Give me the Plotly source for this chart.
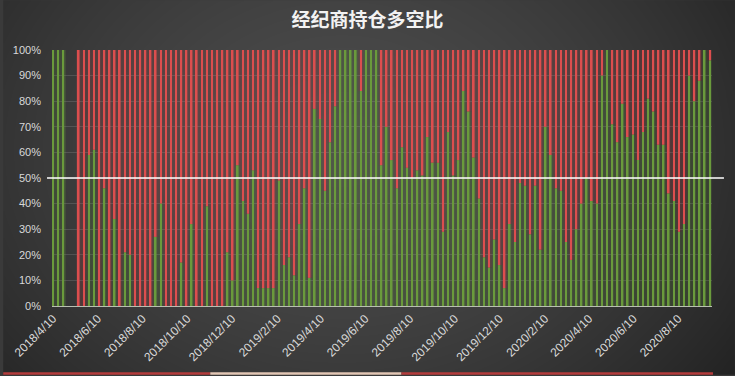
import base64
import struct
import zlib
from datetime import date, timedelta

import numpy as np
import plotly.graph_objects as go

# ---------------- data ----------------
title_text = "经纪商持仓多空比"
start_date = date(2018, 4, 10)

# share of long positions (%) per weekly report; None = no report
long_pct = [
    100, 100, 100, None, None, 0, 0, 59, 61, 0,
    46, 0, 34, 0, 21, 20, 0, 0, 0, 0,
    27, 40, 0, 0, 0, 17, 0, 32, 0, 0,
    39, 0, 0, 0, 21, 10, 55, 41, 36, 53,
    7, 7, 7, 7, 49, 16, 19, 12, 32, 46,
    11, 77, 73, 45, 64, 78, 100, 100, 100, 100,
    84, 100, 100, 100, 55, 70, 57, 46, 62, 54,
    50, 53, 51, 66, 56, 56, 29, 68, 51, 57,
    84, 76, 58, 42, 19, 15, 26, 16, 7, 32,
    25, 48, 47, 28, 47, 22, 70, 59, 46, 45,
    25, 18, 30, 40, 50, 41, 40, 90, 100, 71,
    64, 79, 66, 67, 57, 68, 81, 76, 63, 63,
    44, 41, 29, 32, 90, 80, 88, 100, 96,
]
report_dates = [(start_date + timedelta(weeks=i)).isoformat() for i in range(len(long_pct))]
short_pct = [None if v is None else 100 - v for v in long_pct]

tick_dates = ["2018-04-10", "2018-06-10", "2018-08-10", "2018-10-10", "2018-12-10",
              "2019-02-10", "2019-04-10", "2019-06-10", "2019-08-10", "2019-10-10",
              "2019-12-10", "2020-02-10", "2020-04-10", "2020-06-10", "2020-08-10"]
tick_labels = ["2018/4/10", "2018/6/10", "2018/8/10", "2018/10/10", "2018/12/10",
               "2019/2/10", "2019/4/10", "2019/6/10", "2019/8/10", "2019/10/10",
               "2019/12/10", "2020/2/10", "2020/4/10", "2020/6/10", "2020/8/10"]
y_ticks = [0, 10, 20, 30, 40, 50, 60, 70, 80, 90, 100]
y_tick_labels = ["0%", "10%", "20%", "30%", "40%", "50%", "60%", "70%", "80%", "90%", "100%"]
mid_level = 50

# ---------------- styling ----------------
W, H = 735, 376
ML, MR, MT, MB = 49, 23, 50, 69
PW, PH = W - ML - MR, H - MT - MB
GREEN = "#6a9a3c"
RED = "#dc4e4e"
GREEN_T = "rgba(106,154,60,0.18)"
RED_T = "rgba(220,78,78,0.17)"
DAY_MS = 86400000


def gradient_png():
    yy, xx = np.mgrid[0:H, 0:W].astype(float)
    d = np.sqrt(((xx - 340) / 480.0) ** 2 + ((yy - 150) / 380.0) ** 2)
    d = np.clip(d, 0, 1.2)
    v = 76 - 40 * d ** 1.6
    v = np.clip(v, 30, 80).astype(np.uint8)
    arr = np.stack([v, v, v], axis=-1)
    raw = b"".join(b"\x00" + arr[r].tobytes() for r in range(H))

    def chunk(t, dat):
        c = struct.pack(">I", len(dat)) + t + dat
        return c + struct.pack(">I", zlib.crc32(t + dat) & 0xFFFFFFFF)

    png = (b"\x89PNG\r\n\x1a\n"
           + chunk(b"IHDR", struct.pack(">IIBBBBB", W, H, 8, 2, 0, 0, 0))
           + chunk(b"IDAT", zlib.compress(raw, 9))
           + chunk(b"IEND", b""))
    return "data:image/png;base64," + base64.b64encode(png).decode()


fig = go.Figure()
wide = 7 * DAY_MS
thin = 2.2 * DAY_MS
valid = [i for i, v in enumerate(long_pct) if v is not None]
xd = [report_dates[i] for i in valid]
lv = [long_pct[i] for i in valid]
sv = [short_pct[i] for i in valid]

# tinted slot fill
fig.add_trace(go.Bar(x=xd, y=lv, base=[0] * len(lv), width=[wide] * len(lv),
                     marker=dict(color=GREEN_T, line=dict(width=0)), hoverinfo="skip", showlegend=False))
fig.add_trace(go.Bar(x=xd, y=sv, base=lv, width=[wide] * len(lv),
                     marker=dict(color=RED_T, line=dict(width=0)), hoverinfo="skip", showlegend=False))
# bright bars
fig.add_trace(go.Bar(x=xd, y=lv, base=[0] * len(lv), width=[thin] * len(lv), name="多",
                     marker=dict(color=GREEN, line=dict(width=0)), showlegend=False))
fig.add_trace(go.Bar(x=xd, y=sv, base=lv, width=[thin] * len(lv), name="空",
                     marker=dict(color=RED, line=dict(width=0)), showlegend=False))


def px_x(p):
    return (p - ML) / PW


def px_y(p):
    return (H - MB - p) / PH


shapes = [
    dict(type="line", xref="paper", yref="y", x0=px_x(44), x1=px_x(724),
         y0=mid_level, y1=mid_level, line=dict(color="#ffffff", width=1.5), layer="above"),
    dict(type="rect", xref="paper", yref="paper", x0=px_x(0), x1=px_x(208),
         y0=px_y(376), y1=px_y(373.5), fillcolor="#b43c3c", line=dict(width=0)),
    dict(type="rect", xref="paper", yref="paper", x0=px_x(208), x1=px_x(400),
         y0=px_y(376), y1=px_y(373.5), fillcolor="#e2c6b4", line=dict(width=0)),
    dict(type="rect", xref="paper", yref="paper", x0=px_x(400), x1=px_x(713),
         y0=px_y(376), y1=px_y(373.5), fillcolor="#b43c3c", line=dict(width=0)),
]

fig.update_layout(
    width=W, height=H,
    margin=dict(l=ML, r=MR, t=MT, b=MB, pad=0),
    paper_bgcolor="#3a3a3a", plot_bgcolor="rgba(0,0,0,0)",
    barmode="overlay",
    title=dict(text="<b>" + title_text + "</b>", x=0.5, xanchor="center", y=1 - 20 / H,
               yanchor="middle", yref="container",
               font=dict(family="Noto Sans CJK SC", size=19, color="#f2f2f2")),
    font=dict(family="Liberation Sans", size=11, color="#d9d9d9"),
    xaxis=dict(type="date", range=["2018-04-08 12:00", "2020-09-25"],
               tickmode="array", tickvals=tick_dates, ticktext=tick_labels,
               tickangle=-45, showgrid=False, zeroline=False, ticks="",
               showline=True, linecolor="#b9bfb2", linewidth=1,
               tickfont=dict(size=12, color="#d9d9d9")),
    yaxis=dict(range=[0, 100], tickmode="array", tickvals=y_ticks, ticktext=y_tick_labels,
               showgrid=True, gridcolor="rgba(255,255,255,0.13)", gridwidth=1,
               zeroline=False, ticks="", ticklabelstandoff=10,
               tickfont=dict(size=11, color="#d9d9d9")),
    shapes=shapes,
    images=[dict(source=gradient_png(), xref="paper", yref="paper",
                 x=px_x(0), y=px_y(0), sizex=W / PW, sizey=H / PH,
                 xanchor="left", yanchor="top", sizing="stretch", layer="below")],
)

fig.write_html("out.html", config={"displayModeBar": False},
               post_script="document.body.style.margin='0';document.body.style.background='#333';")
